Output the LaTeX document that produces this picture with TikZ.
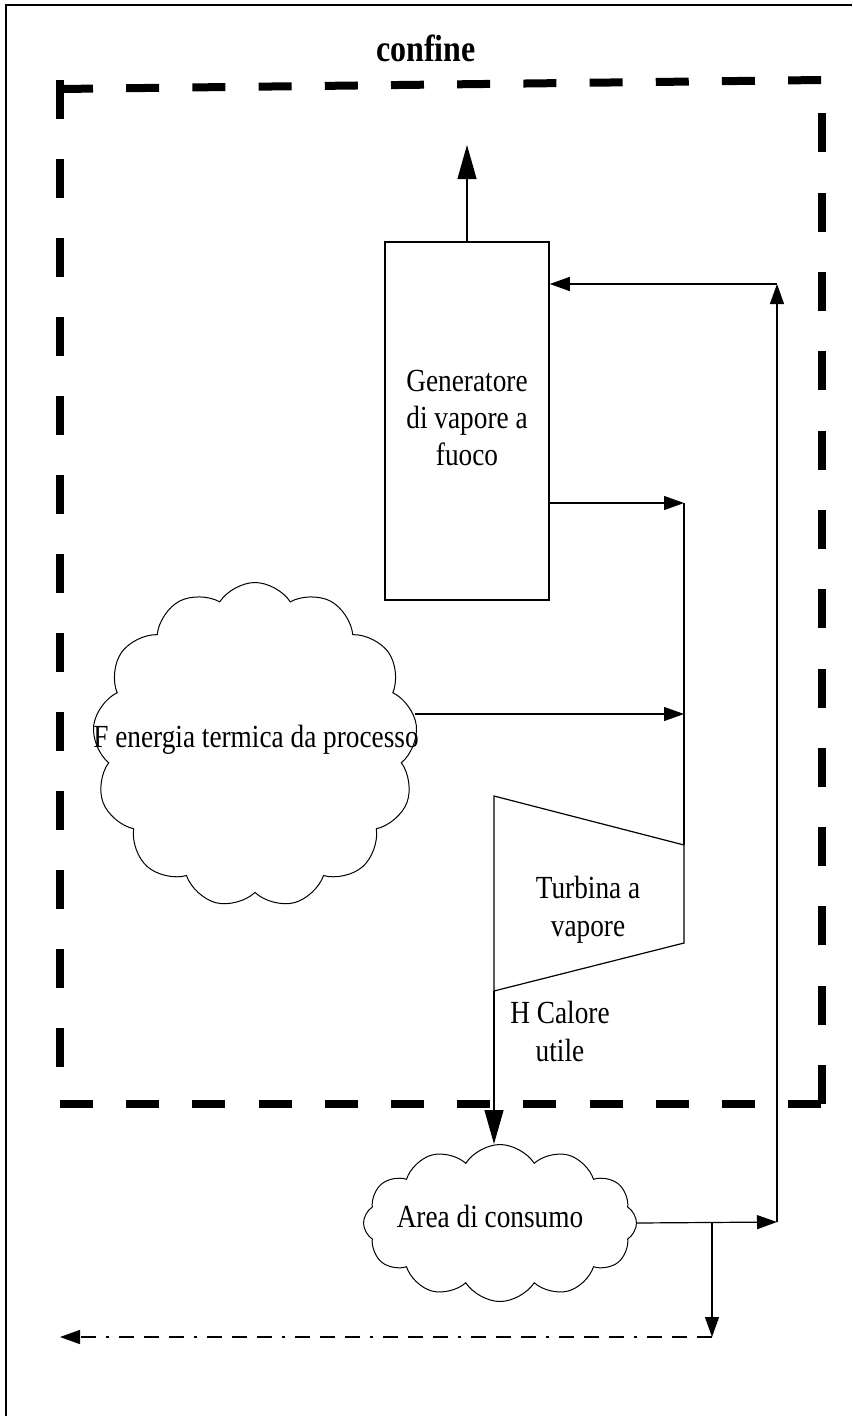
\documentclass[tikz,border=0pt]{standalone}
\usepackage{fontspec}
\setmainfont{Liberation Serif}
\usepackage{graphicx}
\usetikzlibrary{shapes.symbols,arrows.meta}
\newcommand{\alto}[1]{\scalebox{1}[1.18]{\begin{tabular}{@{}c@{}}#1\end{tabular}}}

\begin{document}
\begin{tikzpicture}[x=1pt,y=-1pt,line width=1.2pt,
	testo/.style={inner sep=0pt,font=\fontsize{27.3}{31.5}\selectfont},
	nube/.style={cloud,draw,cloud puffs=13,cloud puff arc=115,line width=1pt},
	freccia/.style={-{Triangle[length=20pt,width=14pt]}},
	freccione/.style={-{Triangle[length=34pt,width=19pt]}},
	confine/.style={line width=8pt}]
					\useasboundingbox (0,0) rectangle (852,1416);
					\draw[line width=2pt] (852,5) -- (6,5) -- (6,1416);
					\node[testo,font=\fontsize{32}{36}\selectfont\bfseries] (conf) at (426,53) {\alto{confine}};
					\draw[confine,dash pattern=on 33pt off 33.2pt] (60,89) -- (822,80);
					\draw[confine,dash pattern=on 33pt off 33.2pt] (60,1104) -- (826,1104);
					\draw[confine,dash pattern=on 39pt off 40pt] (60,80) -- (60,1104);
					\draw[confine,dash pattern=on 39pt off 40.3pt] (822,1104) -- (822,80);
					\node[testo,draw,line width=1.5pt,minimum width=164,minimum height=358] (gen) at (467,421) {\alto{Generatore\\di vapore a\\fuoco}};
					\node[nube,minimum width=325,minimum height=325] (fcl) at (255,745) {};
					\node[testo] (ftxt) at (256,740) {\alto{F energia termica da processo}};
					\coordinate (t1) at (494,796);
					\coordinate (t2) at (684,845);
					\coordinate (t3) at (684,943);
					\coordinate (t4) at (494,991);
					\draw (t1) -- (t2) -- (t3) -- (t4) -- cycle;
					\node[testo] (turb) at (588,910) {\alto{Turbina a\\vapore}};
					\node[testo] (hcal) at (560,1035) {\alto{H Calore\\utile}};
					\node[nube,cloud puffs=12,minimum width=273,minimum height=157] (area) at (500,1223) {};
					\node[testo] (atxt) at (490,1220) {\alto{Area di consumo}};
					\coordinate (fumi) at (467,145);
					\coordinate (nodo1) at (684,503);
					\coordinate (nodo3) at (684,714);
					\coordinate (ritorno) at (777,284);
					\coordinate (nodo2) at (777,1222);
					\coordinate (ramo) at (712,1222);
					\coordinate (scarico) at (712,1337);
					\coordinate (fuori) at (60,1337);
					\draw[freccione] (gen.north) -- (fumi);
					\draw[freccia] (gen.east |- nodo1) -- (nodo1);
					\draw (nodo1) -- (t2);
					\draw[freccia] (fcl.east |- nodo3) -- (nodo3);
					\draw[freccione] (t4) -- (t4 |- area.north);
					\draw[freccia] (area.east) -- (nodo2);
					\draw[freccia] (nodo2) -- (ritorno);
					\draw[freccia] (ritorno) -- (gen.east |- ritorno);
					\draw[freccia] (ramo) -- (scarico);
					\draw[freccia,line width=1.5pt,dash pattern=on 15pt off 10pt on 15pt off 10pt on 15pt off 10pt on 3pt off 10pt] (scarico) -- (fuori);
\end{tikzpicture}
\end{document}
